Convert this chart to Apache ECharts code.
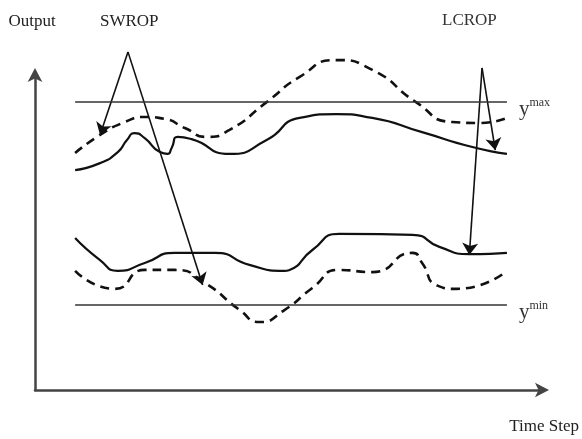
<!DOCTYPE html>
<html>
<head>
<meta charset="utf-8">
<script src="https://cdn.jsdelivr.net/npm/echarts@6/dist/echarts.min.js"></script>
<style>
  html, body { margin: 0; padding: 0; background: #fff; }
  #chart { width: 582px; height: 439px; }
</style>
</head>
<body>
<div id="chart"></div>
<script>
// Output trajectories over time (arbitrary units, 0-100 on both axes)
const upperLong = [[7.9,69.6],[12.8,71.8],[16.3,75.3],[18.1,79.1],[19.6,81.3],[21.6,79.7],[24.6,75.3],[26.1,74.7],[26.9,76.6],[28.1,80.1],[30.8,79.4],[38.3,74.7],[45.6,79.1],[52.1,86.1],[59.3,87.3],[66.4,86.1],[76.2,81.6],[86.1,76.9],[92.9,74.7]];
const upperShort = [[7.9,75.0],[12.8,80.7],[17.7,84.8],[21.6,86.4],[25.5,85.8],[29.5,82.9],[33.8,80.1],[38.3,82.3],[45.6,91.1],[52.1,99.1],[59.3,104.4],[66.4,101.3],[75.0,91.1],[82.1,84.8],[87.4,84.5],[92.9,86.1]];
const lowerLong = [[7.9,48.1],[12.8,41.1],[16.3,37.7],[21.6,40.2],[27.5,43.4],[35.4,43.4],[42.2,39.6],[49.1,37.7],[50.1,38.0],[54.6,44.3],[59.9,49.4],[74.3,49.1],[79.6,45.3],[85.5,43.0],[92.9,43.4]];
const lowerShort = [[7.9,37.7],[15.7,32.0],[21.6,38.0],[27.5,38.0],[33.4,33.9],[40.3,25.3],[44.2,21.5],[49.1,25.3],[54.6,32.3],[59.9,38.0],[66.4,37.3],[74.3,43.4],[76.2,40.2],[79.0,33.2],[82.9,32.0],[92.9,37.7]];

// Output bounds
const yMaxBound = 91.1;
const yMinBound = 26.9;
const boundStart = 7.9;
const boundEnd = 92.9;

// Callout pointers: apex of each label and the two points it indicates
const swropApex = [18.3, 107.0];
const swropTargets = [[12.8, 80.7], [33.0, 33.2]];
const lcropApex = [88.0, 101.9];
const lcropTargets = [[90.6, 75.9], [85.5, 42.7]];

const serif = '"Liberation Serif", "DejaVu Serif", serif';
const ink = '#111';

const chart = echarts.init(document.getElementById('chart'), null, { renderer: 'canvas' });

function curve(name, data, dashed) {
  return {
    name, type: 'line', data, smooth: 0.6, symbol: 'none', clip: false,
    lineStyle: { color: ink, width: dashed ? 2.6 : 2.2, type: dashed ? [9, 6] : 'solid' },
    silent: true, z: 3
  };
}

function pointer(name, apex, targets) {
  return {
    name, type: 'lines', coordinateSystem: 'cartesian2d',
    symbol: ['none', 'arrow'], symbolSize: [9, 12], clip: false, silent: true, z: 4,
    lineStyle: { color: ink, width: 1.6, opacity: 1, curveness: 0 },
    data: targets.map(t => ({ coords: [apex, t] }))
  };
}

const boundLabel = (sup) => ({
  show: true, position: 'end', distance: 12,
  formatter: '{y|y}{s|' + sup + '}',
  padding: [14, 0, 0, 0],
  rich: {
    y: { fontFamily: serif, fontSize: 21, color: '#333' },
    s: { fontFamily: serif, fontSize: 12, color: '#333', verticalAlign: 'top', padding: [0, 0, 12, 0] }
  }
});

const axisLineStyle = {
  show: true, onZero: false, symbol: ['none', 'arrow'], symbolSize: [11, 14], symbolOffset: [0, 6],
  lineStyle: { color: '#444', width: 2.5 }
};

chart.setOption({
  animation: false,
  grid: { left: 35, right: 38, top: 74, bottom: 49 },
  xAxis: {
    type: 'value', min: 0, max: 100,
    name: 'Time Step', nameLocation: 'end', nameGap: 36,
    nameTextStyle: { fontFamily: serif, fontSize: 17, color: '#222', align: 'right', verticalAlign: 'top', padding: [28, 0, 0, 0] },
    axisLine: axisLineStyle,
    axisTick: { show: false }, axisLabel: { show: false }, splitLine: { show: false }
  },
  yAxis: {
    type: 'value', min: 0, max: 100,
    name: 'Output', nameLocation: 'end', nameGap: 44,
    nameTextStyle: { fontFamily: serif, fontSize: 17, color: '#222', padding: [0, 6, 0, 0] },
    axisLine: axisLineStyle,
    axisTick: { show: false }, axisLabel: { show: false }, splitLine: { show: false }
  },
  graphic: [
    { type: 'text', left: 100, top: 13, style: { text: 'SWROP', font: '17px ' + serif, fill: '#222' } },
    { type: 'text', left: 442, top: 12, style: { text: 'LCROP', font: '17px ' + serif, fill: '#333' } }
  ],
  series: [
    {
      name: 'bounds', type: 'line', data: [], silent: true,
      markLine: {
        silent: true, symbol: 'none',
        lineStyle: { color: '#333', width: 1.6, type: 'solid' },
        data: [
          [{ coord: [boundStart, yMaxBound], label: boundLabel('max') }, { coord: [boundEnd, yMaxBound] }],
          [{ coord: [boundStart, yMinBound], label: boundLabel('min') }, { coord: [boundEnd, yMinBound] }]
        ]
      }
    },
    curve('upper long-range', upperLong, false),
    curve('upper short-range', upperShort, true),
    curve('lower long-range', lowerLong, false),
    curve('lower short-range', lowerShort, true),
    pointer('SWROP', swropApex, swropTargets),
    pointer('LCROP', lcropApex, lcropTargets)
  ]
});
</script>
</body>
</html>
